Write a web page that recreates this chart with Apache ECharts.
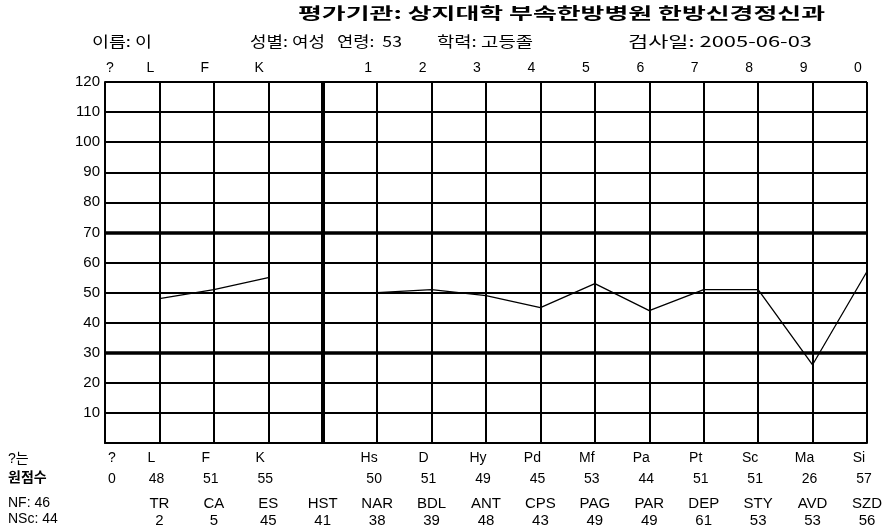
<!DOCTYPE html>
<html><head><meta charset="utf-8">
<script src="https://cdn.jsdelivr.net/npm/echarts@6/dist/echarts.min.js"></script>
<style>html,body{margin:0;padding:0;background:#fff}#c{width:896px;height:530px}</style>
</head><body><div id="c"></div>
<script>
// ---- data ----
const headerLabels = ['?','L','F','K','','1','2','3','4','5','6','7','8','9','0'];
const scaleNames = ['?','L','F','K','','Hs','D','Hy','Pd','Mf','Pa','Pt','Sc','Ma','Si'];
const rawScores = ['0','48','51','55','','50','51','49','45','53','44','51','51','26','57'];
const lineValues = [null,48,51,55,null,50,51,49,45,53,44,51,51,26,57];
const contentNames = ['','TR','CA','ES','HST','NAR','BDL','ANT','CPS','PAG','PAR','DEP','STY','AVD','SZD'];
const contentScores = ['','2','5','45','41','38','39','48','43','49','49','61','53','53','56'];
const thickLevels = [30, 70];
const separatorIndex = 4;
const titleText = '평가기관: 상지대학 부속한방병원 한방신경정신과';
const infoItems = ['이름: 이','성별: 여성','연령:  53','학력: 고등졸','검사일: 2005-06-03'];
const rowTitles = ['?는','원점수','NF: 46','NSc: 44'];

// ---- chart ----
const FONT = '"Liberation Sans", "Noto Sans CJK KR", sans-serif';
const cats = headerLabels.map((_, i) => String(i));
const chart = echarts.init(document.getElementById('c'), null, {renderer: 'canvas'});

function rowAxis(labels, opts) {
  const shift = opts.shift, firstShift = opts.firstShift;
  return {
    type: 'category', data: cats, boundaryGap: false, gridIndex: 0,
    position: opts.position || 'bottom',
    axisLine: {show: false}, axisTick: {show: false}, splitLine: {show: false},
    axisLabel: {
      interval: 0, margin: opts.margin, color: '#000',
      fontFamily: FONT, fontSize: opts.fontSize || 14,
      formatter: (v, i) => {
        const t = labels[i];
        if (!t) return '';
        return (i === 0 ? '{f|' : '{n|') + t + '}';
      },
      rich: {
        n: {fontFamily: FONT, fontSize: opts.fontSize || 14, color: '#000',
            padding: shift < 0 ? [0, -2*shift, 0, 0] : [0, 0, 0, 2*shift]},
        f: {fontFamily: FONT, fontSize: opts.fontSize || 14, color: '#000',
            padding: firstShift < 0 ? [0, -2*firstShift, 0, 0] : [0, 0, 0, 2*firstShift]}
      }
    }
  };
}

const xAxes = [
  {
    type: 'category', data: cats, boundaryGap: false, gridIndex: 0, position: 'bottom',
    axisLine: {show: true, lineStyle: {color: '#000', width: 2}},
    axisTick: {show: false},
    splitLine: {show: true, lineStyle: {color: '#000', width: 2}},
    axisLabel: rowAxis(scaleNames, {margin: 8, shift: -8, firstShift: 7, fontSize: 14}).axisLabel
  },
  rowAxis(rawScores, {margin: 29, shift: -3, firstShift: 7, fontSize: 14}),
  rowAxis(contentNames, {margin: 53, shift: 0, firstShift: 0, fontSize: 15}),
  rowAxis(contentScores, {margin: 70, shift: 0, firstShift: 0, fontSize: 15}),
  rowAxis(headerLabels, {position: 'top', margin: 7, shift: -9, firstShift: 5, fontSize: 14})
];

const option = {
  backgroundColor: '#fff',
  animation: false,
  grid: {left: 105, right: 29, top: 82, bottom: 87, containLabel: false},
  xAxis: xAxes,
  yAxis: {
    type: 'value', min: 0, max: 120, interval: 10,
    axisLine: {show: true, lineStyle: {color: '#000', width: 2}},
    axisTick: {show: false},
    splitLine: {show: true, lineStyle: {color: '#000', width: 2}},
    axisLabel: {color: '#000', fontFamily: FONT, fontSize: 15, margin: 5,
      formatter: v => v === 0 ? '' : String(v)}
  },
  series: [{
    type: 'line', xAxisIndex: 0, data: lineValues, connectNulls: false,
    symbol: 'none', lineStyle: {color: '#000', width: 1.3},
    markLine: {
      silent: true, symbol: 'none', label: {show: false},
      lineStyle: {color: '#000', width: 3.5, type: 'solid'},
      data: thickLevels.map(v => ({yAxis: v})).concat([{xAxis: cats[separatorIndex], lineStyle: {width: 4}}])
    }
  }],
  graphic: []
};

// measure texts to stretch them across their spans
const ctx = document.createElement('canvas').getContext('2d');
function stretched(text, font, left, top, span) {
  ctx.font = font;
  const w = ctx.measureText(text).width;
  return {type: 'text', left: left, top: top, scaleX: span / w, originX: 0,
    style: {text: text, font: font, fill: '#000'}};
}

const g = [];
g.push(stretched(titleText, 'bold 16px "Noto Sans CJK KR", sans-serif', 298, 5, 527));
const infoX = [92, 250, 337, 437, 628];
const infoSpan = [60, 75, 65, 96, 184];
infoItems.forEach((t, i) => g.push(stretched(t, '15px "Noto Sans CJK KR", sans-serif', infoX[i], 34, infoSpan[i])));
const rowY = [452, 471, 496, 512];
rowTitles.forEach((t, i) => g.push({type: 'text', left: 8, top: rowY[i],
  style: {text: t, font: (i === 1 ? 'bold ' : '') + '14px "Liberation Sans", "Noto Sans CJK KR", sans-serif', fill: '#000'}}));
option.graphic = g;

chart.setOption(option);
</script></body></html>
